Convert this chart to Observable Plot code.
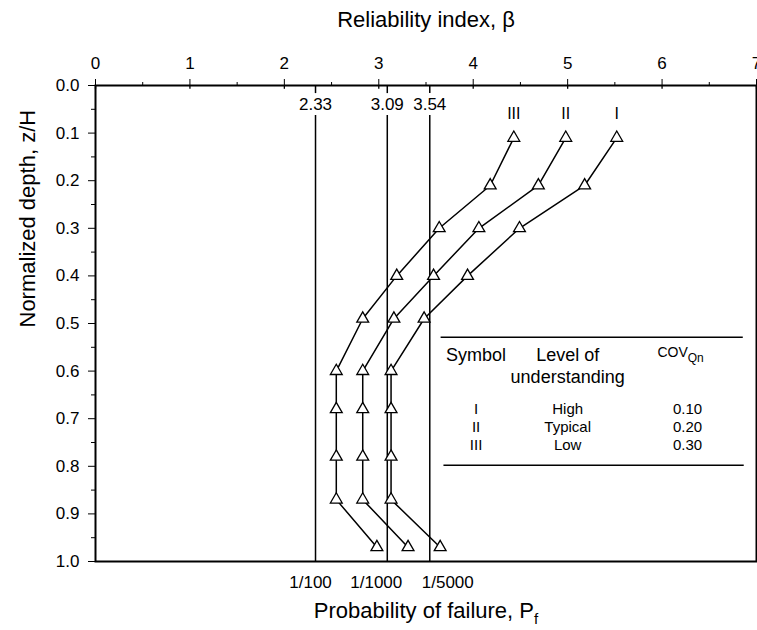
<!DOCTYPE html>
<html>
<head>
<meta charset="utf-8">
<script src="https://cdn.jsdelivr.net/npm/d3@7"></script>
<script src="https://cdn.jsdelivr.net/npm/@observablehq/plot@0.6"></script>
<style>
  body { margin: 0; background: #fff; }
  #chart svg { font-family: "Liberation Sans", Arial, sans-serif; }
</style>
</head>
<body>
<div id="chart"></div>
<script>
// ---- data ----
const depth = [0.11, 0.21, 0.30, 0.40, 0.49, 0.60, 0.68, 0.78, 0.87, 0.97];
const betaI   = [5.52, 5.18, 4.49, 3.94, 3.48, 3.13, 3.13, 3.13, 3.13, 3.65];
const betaII  = [4.98, 4.69, 4.06, 3.58, 3.16, 2.83, 2.83, 2.83, 2.83, 3.31];
const betaIII = [4.43, 4.18, 3.64, 3.19, 2.83, 2.55, 2.55, 2.55, 2.55, 2.98];
const seriesNames = ["I", "II", "III"];
const refBeta = [2.33, 3.09, 3.54];
const refBetaLabels = ["2.33", "3.09", "3.54"];
const pfLabels = ["1/100", "1/1000", "1/5000"];
const xTicks = [0, 1, 2, 3, 4, 5, 6, 7];
const yTicks = [0, 0.1, 0.2, 0.3, 0.4, 0.5, 0.6, 0.7, 0.8, 0.9, 1.0];
const tableSymbols = ["I", "II", "III"];
const tableLevels = ["High", "Typical", "Low"];
const tableCov = ["0.10", "0.20", "0.30"];

// ---- build ----
const seriesValues = [betaI, betaII, betaIII];
const rows = seriesNames.flatMap((s, k) =>
  depth.map((d, i) => ({series: s, depth: d, beta: seriesValues[k][i]})));
const firstPoints = seriesNames.map((s, k) => ({series: s, depth: depth[0], beta: seriesValues[k][0]}));

// table layout (in chart units)
const tbl = {x1: 3.66, x2: 6.86, yTop: 0.529, yBot: 0.798,
  colX: [4.03, 5.0, 6.27], headY: 0.567, head2Y: 0.613, rowY: [0.679, 0.718, 0.756]};
const tableRows = tableSymbols.map((s, i) => ({sym: s, lvl: tableLevels[i], cov: tableCov[i], y: tbl.rowY[i]}));

const pfDx = [-5, -11, 18];
const TICK_FS = 17;

const marks = [
  Plot.frame({stroke: "black", strokeWidth: 2}),
  Plot.axisX({anchor: "top", ticks: xTicks, tickSize: 7, tickPadding: 10, tickFormat: d => String(d),
    fontSize: TICK_FS, label: null}),
  Plot.axisX({anchor: "top", ticks: d3.range(0.5, 7, 1), tickSize: 4, tickFormat: () => "", label: null}),
  Plot.ruleX(xTicks, {y1: 0, y2: 0.008, stroke: "black", strokeWidth: 1.3}),
  Plot.axisY({ticks: yTicks, tickSize: 7, tickPadding: 9, tickFormat: d3.format(".1f"),
    fontSize: TICK_FS, label: null}),
  Plot.axisY({ticks: d3.range(0.05, 1, 0.1), tickSize: 4, tickFormat: () => "", label: null}),
  // axis titles
  Plot.text(["Reliability index, β"], {frameAnchor: "top", lineAnchor: "middle", dy: -66, fontSize: 22}),
  Plot.text(["Normalized depth, z/H"], {frameAnchor: "left", rotate: -90, dx: -68, dy: 4, fontSize: 22}),
  Plot.text(["Probability of failure, P"], {frameAnchor: "bottom", lineAnchor: "middle", dy: 49, fontSize: 22, className: "pf-title"}),
  // reference lines
  Plot.ruleX(refBeta, {y1: 0, y2: 0.017, stroke: "black", strokeWidth: 1.5}),
  Plot.ruleX(refBeta, {y1: 0.063, y2: 1, stroke: "black", strokeWidth: 1.5}),
  Plot.text(refBeta, {x: d => d, frameAnchor: "top", lineAnchor: "middle", dy: 19,
    text: (d, i) => refBetaLabels[i], fontSize: 17}),
  ...refBeta.map((b, i) => Plot.text([b], {x: d => d, frameAnchor: "bottom", lineAnchor: "middle",
    dx: pfDx[i], dy: 21, text: () => pfLabels[i], fontSize: 17})),
  // series
  Plot.line(rows, {x: "beta", y: "depth", z: "series", stroke: "black", strokeWidth: 1.5}),
  Plot.dot(rows, {x: "beta", y: "depth", symbol: "triangle", r: 4.4, fill: "white", stroke: "black", strokeWidth: 1.3}),
  Plot.text(firstPoints, {x: "beta", y: "depth", text: "series", dy: -24, fontSize: 16}),
  // legend table
  Plot.ruleY([tbl.yTop], {x1: tbl.x1, x2: tbl.x2, stroke: "black", strokeWidth: 1.5}),
  Plot.ruleY([tbl.yBot], {x1: tbl.x1 + 0.03, x2: tbl.x2 + 0.01, stroke: "black", strokeWidth: 1.5}),
  Plot.text(["Symbol"], {x: tbl.colX[0], y: tbl.headY, fontSize: 18}),
  Plot.text(["Level of"], {x: tbl.colX[1], y: tbl.headY, fontSize: 18}),
  Plot.text(["understanding"], {x: tbl.colX[1], y: tbl.head2Y, fontSize: 18}),
  Plot.text(["COV"], {x: tbl.colX[2], y: tbl.headY, fontSize: 14, className: "cov-head", dx: -7, dy: -3}),
  Plot.text(tableRows, {x: tbl.colX[0], y: "y", text: "sym", fontSize: 15}),
  Plot.text(tableRows, {x: tbl.colX[1], y: "y", text: "lvl", fontSize: 15}),
  Plot.text(tableRows, {x: tbl.colX[2], y: "y", text: "cov", fontSize: 15})
];

const chart = Plot.plot({
  width: 757,
  height: 630,
  marginLeft: 95,
  marginRight: 1,
  marginTop: 85,
  marginBottom: 69,
  style: {fontFamily: "'Liberation Sans', Arial, sans-serif", color: "black", background: "white"},
  x: {domain: [0, 7]},
  y: {domain: [0, 1], reverse: true},
  marks
});

// make sure tick label sizes apply
d3.select(chart).selectAll('g[aria-label="x-axis tick label"], g[aria-label="y-axis tick label"]')
  .attr("font-size", TICK_FS);

// subscripts
d3.select(chart).selectAll(".pf-title text").append("tspan")
  .attr("dy", "6").attr("font-size", 15).text("f");
d3.select(chart).selectAll(".cov-head text").append("tspan")
  .attr("dy", "5").attr("font-size", 12).text("Qn");

document.getElementById("chart").appendChild(chart);
</script>
</body>
</html>
